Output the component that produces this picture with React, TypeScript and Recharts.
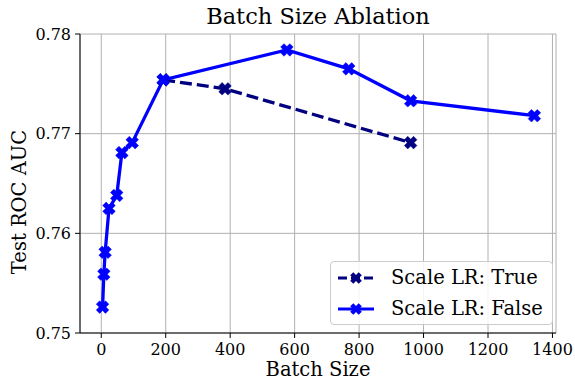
import { LineChart, Line, XAxis, YAxis, CartesianGrid } from "recharts";

const font = "'DejaVu Serif', serif";

// Scale LR: False (solid blue)
const falseBatch = [4, 8, 12, 24, 48, 64, 96, 192, 576, 768, 960, 1344];
const falseAuc = [0.7526, 0.7559, 0.7581, 0.7625, 0.7638, 0.7681, 0.7691, 0.7754, 0.7784, 0.7765, 0.7733, 0.7718];

// Scale LR: True (dashed navy)
const trueBatch = [192, 384, 960];
const trueAuc = [0.7754, 0.7745, 0.7691];

const xTicks = [0, 200, 400, 600, 800, 1000, 1200, 1400];
const yTicks = [0.75, 0.76, 0.77, 0.78];

const falseData = falseBatch.map((b, i) => ({ x: b, y: falseAuc[i] }));
const trueData = trueBatch.map((b, i) => ({ x: b, y: trueAuc[i] }));

function xPoints(cx: number, cy: number, r: number, w: number) {
  const pts = [
    [-w, -r], [w, -r], [w, -w], [r, -w], [r, w], [w, w],
    [w, r], [-w, r], [-w, w], [-r, w], [-r, -w], [-w, -w],
  ];
  const c = Math.SQRT1_2;
  return pts
    .map(([px, py]) => `${cx + (px - py) * c},${cy + (px + py) * c}`)
    .join(" ");
}

function XMarker(props: any) {
  const { cx, cy, fill } = props;
  if (cx == null || cy == null) return null;
  return <polygon points={xPoints(cx, cy, 6.5, 2.4)} fill={fill} stroke={fill} strokeWidth={0.5} />;
}

function LegendBox() {
  const rows = [
    { name: "Scale LR: True", color: "#000080", dash: "9 4" },
    { name: "Scale LR: False", color: "#0000ff", dash: undefined },
  ];
  return (
    <div
      style={{
        position: "absolute",
        left: 330,
        top: 261,
        background: "rgba(255,255,255,0.85)",
        border: "1px solid #cccccc",
        borderRadius: 4,
        padding: "0px 9px 0px 6px",
        fontFamily: font,
        fontSize: 19.5,
        color: "#000",
      }}
    >
      {rows.map((r) => (
        <div key={r.name} style={{ display: "flex", alignItems: "center", height: 31 }}>
          <svg width={38} height={16} style={{ marginRight: 16 }}>
            <line x1={1} y1={8} x2={37} y2={8} stroke={r.color} strokeWidth={3} strokeDasharray={r.dash} />
            <polygon points={xPoints(19, 8, 6, 2.2)} fill={r.color} />
          </svg>
          <span style={{ fontFamily: font }}>{r.name}</span>
        </div>
      ))}
    </div>
  );
}

export default function App() {
  return (
    <div style={{ position: "absolute", left: 0, top: 0, width: 575, height: 383, background: "#fff", fontFamily: font }}>
      <LineChart
        width={575}
        height={383}
        margin={{ top: 34, right: 19, bottom: 0, left: 0 }}
        style={{ position: "absolute", left: 0, top: 0, fontFamily: font }}
      >
        <CartesianGrid stroke="#b0b0b0" strokeWidth={1} />
        <XAxis
          xAxisId={0}
          dataKey="x"
          type="number"
          domain={[-66, 1411]}
          ticks={xTicks}
          allowDataOverflow
          height={50}
          tickSize={5}
          tickMargin={6}
          stroke="#000"
          tick={{ fill: "#000", fontFamily: font, fontSize: 16 }}
        />
        <XAxis
          xAxisId="top"
          orientation="top"
          type="number"
          domain={[-66, 1411]}
          height={0}
          tick={false}
          tickLine={false}
          stroke="#000"
        />
        <YAxis
          yAxisId={0}
          type="number"
          domain={[0.75, 0.78]}
          ticks={yTicks}
          allowDataOverflow
          width={80}
          tickSize={5}
          tickMargin={4}
          stroke="#000"
          tickFormatter={(v: number) => v.toFixed(2)}
          tick={{ fill: "#000", fontFamily: font, fontSize: 16 }}
        />
        <YAxis
          yAxisId="right"
          orientation="right"
          type="number"
          domain={[0.75, 0.78]}
          width={0}
          tick={false}
          tickLine={false}
          stroke="#000"
        />
        <Line
          data={trueData}
          dataKey="y"
          xAxisId={0}
          yAxisId={0}
          stroke="#000080"
          strokeWidth={3.3}
          strokeDasharray="12 5"
          dot={<XMarker fill="#000080" />}
          activeDot={false}
          isAnimationActive={false}
        />
        <Line
          data={falseData}
          dataKey="y"
          xAxisId={0}
          yAxisId={0}
          stroke="#0000ff"
          strokeWidth={3.3}
          dot={<XMarker fill="#0000ff" />}
          activeDot={false}
          isAnimationActive={false}
        />
      </LineChart>
      <div
        style={{
          position: "absolute",
          left: 80,
          width: 476,
          top: 3,
          textAlign: "center",
          fontFamily: font,
          fontSize: 22.5,
          color: "#000",
        }}
      >
        Batch Size Ablation
      </div>
      <div
        style={{
          position: "absolute",
          left: 80,
          width: 476,
          top: 358,
          textAlign: "center",
          fontFamily: font,
          fontSize: 19.5,
          color: "#000",
        }}
      >
        Batch Size
      </div>
      <div
        style={{
          position: "absolute",
          left: 19,
          top: 202,
          transform: "translate(-50%, -50%) rotate(-90deg)",
          whiteSpace: "nowrap",
          fontFamily: font,
          fontSize: 19.5,
          color: "#000",
        }}
      >
        Test ROC AUC
      </div>
      <LegendBox />
    </div>
  );
}
